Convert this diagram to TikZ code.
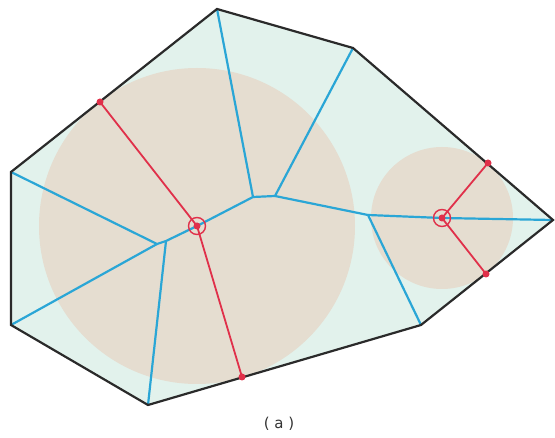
\documentclass[tikz,border=0pt]{standalone}
\usepackage{fontspec}
\setmainfont{DejaVu Sans}
\definecolor{polyfill}{HTML}{E2F2EC}
\definecolor{diskfill}{HTML}{E5DDD0}
\definecolor{bluel}{HTML}{2AA6D6}
\definecolor{redl}{HTML}{E0304A}
\definecolor{edgec}{HTML}{2A2A2A}
\definecolor{textc}{HTML}{333333}
\tikzset{
  outline/.style={draw=edgec, line width=2.2pt, line join=miter},
  bisector/.style={draw=bluel, line width=2.2pt, line join=round},
  radius line/.style={draw=redl, line width=1.8pt},
  tangent dot/.style={circle, fill=redl, inner sep=0pt, minimum size=7pt},
  centre ring/.style={circle, draw=redl, line width=1.4pt, inner sep=0pt, minimum size=17pt},
  centre dot/.style={circle, fill=redl, inner sep=0pt, minimum size=7pt},
}
\begin{document}
\begin{tikzpicture}[x=1pt,y=-1pt]
\useasboundingbox (0,0) rectangle (555,438);
% polygon vertices
\coordinate (T) at (217,9);
\coordinate (NE) at (353,48);
\coordinate (R) at (553,220);
\coordinate (SE) at (421,325);
\coordinate (B) at (148,405);
\coordinate (BL) at (11,325);
\coordinate (L) at (11,172);
% inner vertices
\coordinate (J1) at (253,197);
\coordinate (J2) at (275,196);
\coordinate (M) at (368,215);
\coordinate (K1) at (157,244);
\coordinate (K2) at (166,241);
\coordinate (C1) at (197,226);
\coordinate (C2) at (442,218);
% tangent points
\coordinate (P1) at (100,102);
\coordinate (P2) at (242,377);
\coordinate (P3) at (488,163);
\coordinate (P4) at (486,274);

\fill[polyfill] (T) -- (NE) -- (R) -- (SE) -- (B) -- (BL) -- (L) -- cycle;
\begin{scope}
\clip (T) -- (NE) -- (R) -- (SE) -- (B) -- (BL) -- (L) -- cycle;
\fill[diskfill] (C1) circle (158);
\fill[diskfill] (C2) circle (71);
\end{scope}

% blue skeleton
\draw[bisector] (T) -- (J1) -- (J2) -- (NE);
\draw[bisector] (J1) -- (C1) -- (K2) -- (K1) -- (L);
\draw[bisector] (K1) -- (BL);
\draw[bisector] (K2) -- (B);
\draw[bisector] (J2) -- (M) -- (SE);
\draw[bisector] (M) -- (C2) -- (R);

% red radii
\draw[radius line] (C1) -- (P1);
\draw[radius line] (C1) -- (P2);
\draw[radius line] (C2) -- (P3);
\draw[radius line] (C2) -- (P4);

% outline
\draw[outline] (T) -- (NE) -- (R) -- (SE) -- (B) -- (BL) -- (L) -- cycle;

% markers
\node[tangent dot] (d1) at (P1) {};
\node[tangent dot] (d2) at (P2) {};
\node[tangent dot] (d3) at (P3) {};
\node[tangent dot] (d4) at (P4) {};
\node[centre ring] (r1) at (C1) {};
\node[centre dot] (c1) at (C1) {};
\node[centre ring] (r2) at (C2) {};
\node[centre dot] (c2) at (C2) {};

\node[text=textc, font=\fontsize{15pt}{17pt}\selectfont] (lbl) at (279,424) {( a )};
\end{tikzpicture}
\end{document}
